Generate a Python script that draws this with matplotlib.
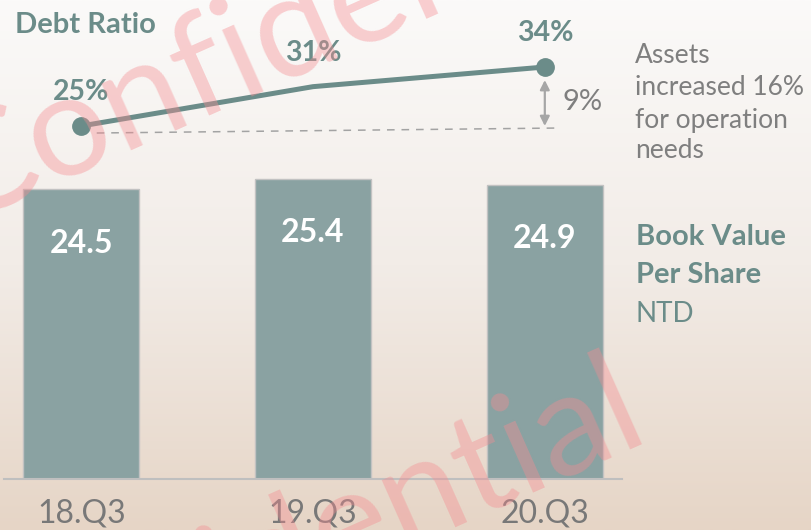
import numpy as np
import matplotlib
matplotlib.use("Agg")
import matplotlib.pyplot as plt
from matplotlib.colors import LinearSegmentedColormap

# ---------------- data ----------------
categories = ["18.Q3", "19.Q3", "20.Q3"]
book_value = [24.5, 25.4, 24.9]
debt_ratio = [25, 31, 34]
debt_labels = ["25%", "31%", "34%"]
bv_labels = ["24.5", "25.4", "24.9"]
gap_label = "9%"
note_lines = ["Assets", "increased 16%", "for operation", "needs"]
debt_title = "Debt Ratio"
bv_title = ["Book Value", "Per Share"]
bv_unit = "NTD"
watermark = "Confidential"

# ---------------- style ----------------
W, H, DPI = 812, 530, 100
plt.rcParams['font.family'] = ['Lato', 'DejaVu Sans']

TEAL = '#6B8C89'
BAR = '#8AA2A2'
GRAY = '#7F7F7F'
ARROW = '#A6A6A6'

fig = plt.figure(figsize=(W / DPI, H / DPI), dpi=DPI)


def fx(px):
    return px / W


def fy(py):
    return 1 - py / H


# background gradient
bg = fig.add_axes([0, 0, 1, 1], zorder=-10)
grad = np.linspace(0, 1, 256).reshape(-1, 1)
cmap = LinearSegmentedColormap.from_list('bg', ['#FBFAF9', '#F2ECE7', '#E6D5C6'])
bg.imshow(grad, aspect='auto', cmap=cmap, extent=[0, 1, 0, 1], origin='upper')
bg.axis('off')

# main bar axes
ax = fig.add_axes([fx(4), fy(479), 618 / W, 479 / H])
ax.patch.set_alpha(0)
x = np.arange(len(categories))
ax.bar(x, book_value, width=0.5, color=BAR, edgecolor='#C2C2C2', linewidth=1.0, zorder=2)
ax.set_xlim(-0.333, 2.333)
ax.set_ylim(0, 479 / 11.82)
for s in ['top', 'right', 'left']:
    ax.spines[s].set_visible(False)
ax.spines['bottom'].set_color('#BFBFBF')
ax.spines['bottom'].set_linewidth(1.5)
ax.set_yticks([])
ax.set_xticks(x, categories)
ax.tick_params(axis='x', length=0, pad=14, labelsize=23, labelcolor='#787878')

for xi, v, lab in zip(x, book_value, bv_labels):
    ax.annotate(lab, (xi, v), xytext=(0, -45.5), textcoords='offset points',
                ha='center', va='baseline', color='white', fontsize=23,
                fontweight='bold', zorder=4)

# debt ratio line axes
ax2 = ax.twinx()
ax2.patch.set_alpha(0)
ax2.set_ylim(-28.85, 44.22)
for s in ax2.spines.values():
    s.set_visible(False)
ax2.set_yticks([])

ax2.plot(x, debt_ratio, color=TEAL, lw=3.6, solid_capstyle='round', zorder=3)
ax2.plot([x[0], x[-1]], [debt_ratio[0], debt_ratio[-1]], 'o', ms=12.5, color=TEAL, zorder=4)
for xi, d, lab in zip(x, debt_ratio, debt_labels):
    ax2.annotate(lab, (xi, d), xytext=(0, 18.4), textcoords='offset points',
                 ha='center', va='baseline', color=TEAL, fontsize=20.5,
                 fontweight='bold')

# dashed reference at starting level
ax2.plot([0.067, 2.058], [debt_ratio[0] - 1.07, debt_ratio[0] - 0.31],
         color='#A3A3A3', lw=1.1, ls=(0, (5, 4.5)), zorder=2)

# double arrow showing the gap
ax2.annotate('', xy=(x[-1], debt_ratio[0]), xytext=(x[-1], debt_ratio[-1]),
             arrowprops=dict(arrowstyle='<|-|>', color=ARROW, lw=1.6,
                             shrinkA=9.4, shrinkB=0, mutation_scale=14))

# texts
fig.text(fx(15), fy(33), debt_title, color=TEAL, fontsize=21, fontweight='bold', va='baseline')
fig.text(fx(563), fy(110), gap_label, color=GRAY, fontsize=21, va='baseline')
for line, yb in zip(note_lines, [63, 95, 128, 158]):
    fig.text(fx(635), fy(yb), line, color=GRAY, fontsize=19, va='baseline')
for line, yb in zip(bv_title, [245, 283]):
    fig.text(fx(636), fy(yb), line, color=TEAL, fontsize=21, fontweight='bold', va='baseline')
fig.text(fx(636), fy(322), bv_unit, color=TEAL, fontsize=20, va='baseline')

# watermark
wm = dict(color=(0.96, 0.55, 0.57), alpha=0.4, fontsize=104, rotation=24,
          rotation_mode='anchor', va='baseline', zorder=20)
fig.text(fx(-41), fy(224), watermark, ha='left', **wm)
fig.text(fx(652), fy(437), watermark, ha='right', **wm)

fig.savefig('out.png', dpi=DPI)
